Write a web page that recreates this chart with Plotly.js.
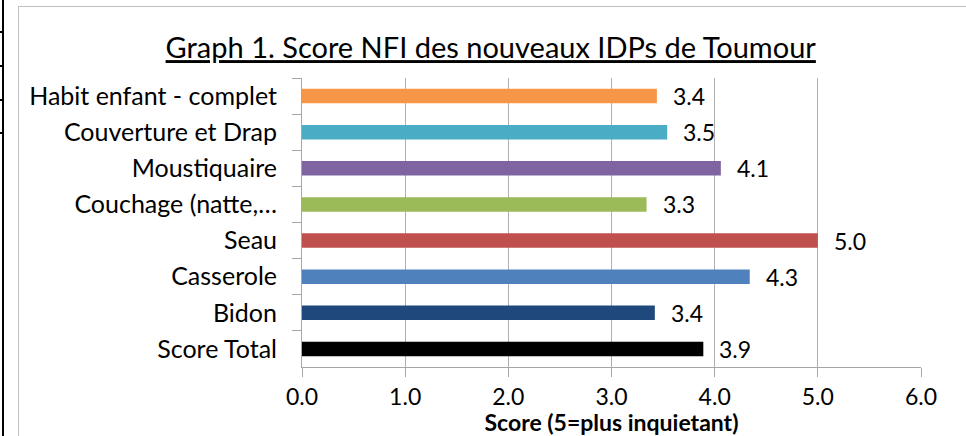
<!DOCTYPE html>
<html>
<head>
<meta charset="utf-8">
<script src="https://cdn.plot.ly/plotly-3.0.1.min.js"></script>
<style>
  html, body { margin: 0; padding: 0; background: #ffffff; }
  #wrap { position: relative; width: 966px; height: 436px; overflow: hidden; background: #fff; }
  #frame { position: absolute; left: 18px; top: 6px; width: 1000px; height: 500px; border: 1px solid #bfbfbf; }
  #tline { position: absolute; left: 2px; top: 0; width: 2px; height: 436px; background: #000; }
  .hl { position: absolute; left: 0; width: 4px; height: 2px; background: #000; }
  #chart { position: absolute; left: 0; top: 0; width: 966px; height: 436px; }
</style>
</head>
<body>
<div id="wrap">
  <div id="frame"></div>
  <div id="tline"></div>
  <div class="hl" style="top:31px"></div>
  <div class="hl" style="top:65px"></div>
  <div class="hl" style="top:99px"></div>
  <div class="hl" style="top:132px"></div>
  <div id="chart"></div>
</div>
<script>
// Data (top to bottom as displayed)
const categories = ["Habit enfant - complet", "Couverture et Drap", "Moustiquaire", "Couchage (natte,\u2026", "Seau", "Casserole", "Bidon", "Score Total"];
const scores = [3.44, 3.54, 4.06, 3.34, 5.0, 4.34, 3.42, 3.89];
const xTicks = [0, 1, 2, 3, 4, 5, 6];
const xTickLabels = ["0.0", "1.0", "2.0", "3.0", "4.0", "5.0", "6.0"];

// Styles
const barColors = ["#F79646", "#4BACC6", "#8064A2", "#9BBB59", "#C0504D", "#4F81BD", "#1F497D", "#000000"];
const FONT = "Lato, 'Open Sans', sans-serif";

const trace = {
  type: "bar",
  orientation: "h",
  y: categories,
  x: scores,
  width: 0.4,
  marker: { color: barColors, line: { width: 0 } },
  hoverinfo: "y+x"
};

const annotations = scores.map((v, i) => ({
  x: v, y: categories[i], xref: "x", yref: "y",
  text: v.toFixed(1), showarrow: false,
  xanchor: "left", yanchor: "middle", xshift: 14,
  font: { family: FONT, size: 23, color: "#000" }
}));

const layout = {
  width: 966, height: 436,
  margin: { l: 302, r: 45, t: 78, b: 69 },
  paper_bgcolor: "rgba(0,0,0,0)",
  plot_bgcolor: "rgba(0,0,0,0)",
  showlegend: false,
  title: {
    text: "Graph 1. Score NFI des nouveaux IDPs de Toumour",
    x: 0.508, xanchor: "center", y: 0.89, yanchor: "middle",
    font: { family: FONT, size: 29, color: "#000", lineposition: "under" }
  },
  xaxis: {
    range: [0, 6],
    tickvals: xTicks, ticktext: xTickLabels,
    showgrid: true, gridcolor: "#b0b0b0", gridwidth: 1,
    showline: true, linecolor: "#a6a6a6", linewidth: 1,
    ticks: "outside", ticklen: 9, tickcolor: "#a6a6a6",
    ticklabelstandoff: 0,
    zeroline: false,
    tickfont: { family: FONT, size: 23, color: "#000" },
    title: { text: "<b>Score (5=plus inquietant)</b>", standoff: 4, font: { family: FONT, size: 23, color: "#000" } },
    fixedrange: true
  },
  yaxis: {
    type: "category",
    autorange: "reversed",
    showgrid: false,
    showline: true, linecolor: "#a6a6a6", linewidth: 1,
    ticks: "outside", ticklen: 9, tickcolor: "#a6a6a6", tickson: "boundaries",
    ticklabelstandoff: 19,
    tickfont: { family: FONT, size: 25, color: "#000" },
    fixedrange: true
  },
  bargap: 0.6,
  annotations: annotations
};

Plotly.newPlot("chart", [trace], layout, { displayModeBar: false, staticPlot: true });
</script>
</body>
</html>
